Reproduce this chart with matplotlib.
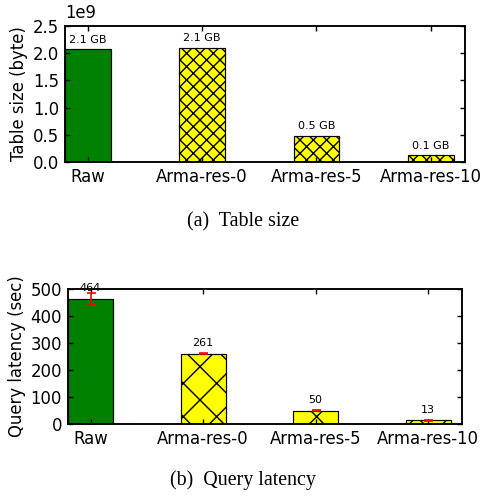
import matplotlib
matplotlib.use("Agg")
import matplotlib.pyplot as plt
import numpy as np

# data
labels = ["Raw", "Arma-res-0", "Arma-res-5", "Arma-res-10"]
size_bytes = [2.07e9, 2.10e9, 0.478e9, 0.12e9]
latency = [464, 261, 50, 13]
latency_err = [20, 2, 2, 2]
colors = ["green", "yellow", "yellow", "yellow"]

DPI = 200


def pt(px):
    # pixel size -> points at the figure dpi
    return px * 72.0 / DPI


plt.rcParams["hatch.linewidth"] = pt(1.4)
plt.rcParams["font.family"] = "DejaVu Sans"

fig = plt.figure(figsize=(486 / DPI, 501 / DPI), dpi=DPI)
ax1 = fig.add_axes([65 / 486, 1 - 162 / 501, 400 / 486, 136 / 501])
ax2 = fig.add_axes([68 / 486, 1 - 424 / 501, 394 / 486, 135 / 501])

x = np.arange(len(labels))
w = 0.4


def style(ax):
    ax.set_xticks(x)
    ax.set_xticklabels(labels)
    ax.set_xlim(-0.2, 3.3)
    ax.tick_params(direction="in", top=True, right=True, length=pt(5.2),
                   width=pt(1.4), labelsize=pt(16.5), pad=pt(5.9))
    for s in ax.spines.values():
        s.set_linewidth(pt(1.9))


# (a) table size
bars = ax1.bar(x, size_bytes, w, color=colors, edgecolor="black", linewidth=pt(1.2))
for b in bars[1:]:
    b.set_hatch("xxxxx")
for b, v in zip(bars, size_bytes):
    ax1.annotate("%.1f GB" % (v / 1e9), (b.get_x() + w / 2, v),
                 xytext=(0, pt(4.7)), textcoords="offset points",
                 ha="center", va="bottom", fontsize=pt(11.1))
ax1.set_ylim(0, 2.5e9)
ax1.set_yticks(np.arange(0, 2.51e9, 0.5e9))
ax1.set_ylabel("Table size (byte)", fontsize=pt(16.5), labelpad=pt(4.7))
style(ax1)
ax1.yaxis.get_offset_text().set_fontsize(pt(16.5))

# (b) query latency
bars = ax2.bar(x, latency, w, color=colors, edgecolor="black", linewidth=pt(1.2),
               yerr=latency_err,
               error_kw=dict(ecolor="red", capsize=pt(4.5), elinewidth=pt(1.65),
                             capthick=pt(1.65)))
for b in bars[1:]:
    b.set_hatch("xx")
for b, v in zip(bars, latency):
    ax2.annotate("%d" % v, (b.get_x() + w / 2, v),
                 xytext=(0, pt(5.9)), textcoords="offset points",
                 ha="center", va="bottom", fontsize=pt(11.1))
ax2.set_ylim(0, 500)
ax2.set_yticks(np.arange(0, 501, 100))
ax2.set_ylabel("Query latency (sec)", fontsize=pt(16.5), labelpad=pt(4.7))
style(ax2)

fig.text(0.5, 1 - 222 / 501, "(a)  Table size", ha="center", va="center",
         family="Liberation Serif", fontsize=pt(20))
fig.text(0.5, 1 - 480 / 501, "(b)  Query latency", ha="center", va="center",
         family="Liberation Serif", fontsize=pt(20))

fig.savefig("out.png", dpi=DPI)
